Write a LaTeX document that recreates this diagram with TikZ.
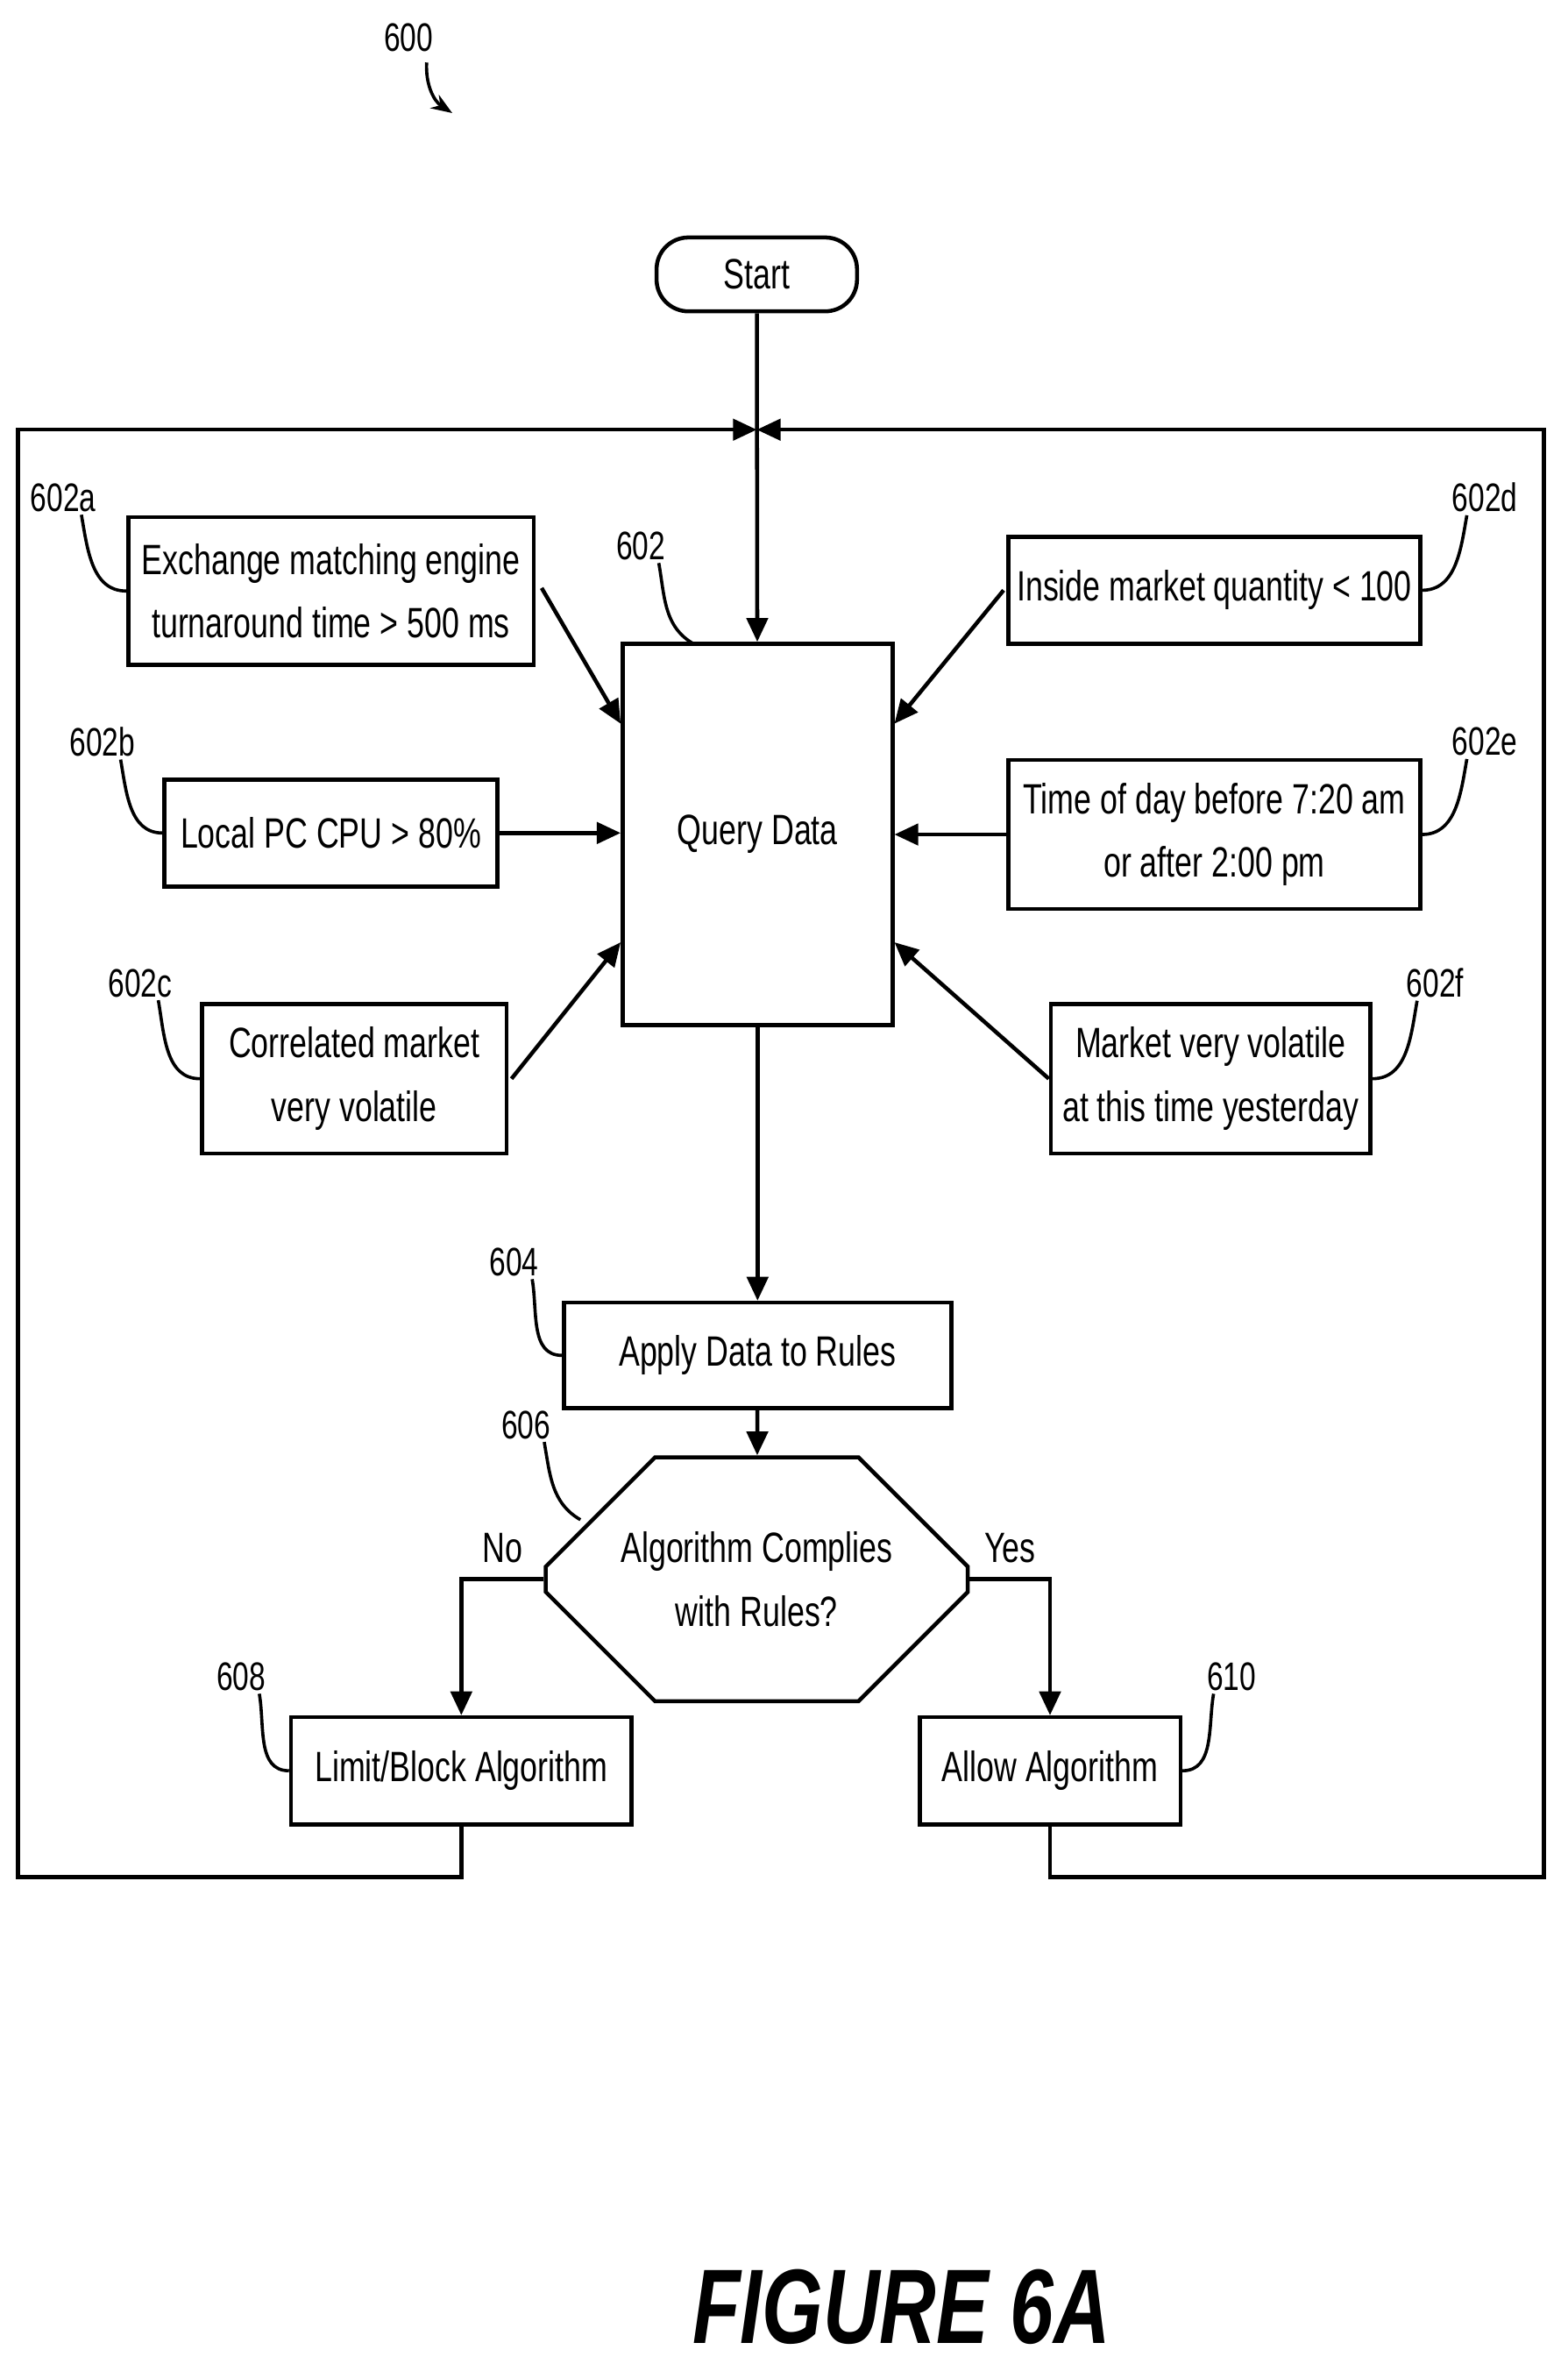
\documentclass[tikz,border=0pt]{standalone}
\usepackage{fontspec}
\setmainfont[FakeStretch=0.74]{Liberation Sans}
\usetikzlibrary{arrows.meta,shapes.misc,shapes.geometric,positioning}
\tikzset{
  box/.style={draw,line width=1.5pt,align=center,inner sep=0pt,font=\fontsize{16}{24}\selectfont},
  flow/.style={line width=1.5pt,-{Triangle[length=9pt,width=8pt]}},
  wire/.style={line width=1.5pt},
  lead/.style={line width=1.2pt},
  ref/.style={font=\fontsize{15}{18}\selectfont,inner sep=1pt},
}
\begin{document}
\begin{tikzpicture}[x=0.02cm,y=-0.02cm]
\useasboundingbox (0,0) rectangle (1040,1568);
% figure number
\node[ref] (fig) at (271,25) {600};
\draw[lead,-{Stealth[length=8pt]}] (fig.south) ++(12,5) to[bend right=30] (300,75);
% flow boxes
\node[box,rounded corners=12pt,minimum width=2.66cm,minimum height=0.98cm] (start) at (502,182) {Start};
\node[box,minimum width=3.58cm,minimum height=5.06cm] (query) at (502.5,553.5) {Query Data};
\node[box,minimum width=5.38cm,minimum height=1.96cm] (inA) at (219.5,392) {Exchange matching engine\\turnaround time > 500 ms};
\node[box,minimum width=4.42cm,minimum height=1.42cm] (inB) at (219.5,552.5) {Local PC CPU > 80\%};
\node[box,minimum width=4.04cm,minimum height=1.98cm] (inC) at (235,715.5) {Correlated market\\very volatile};
\node[box,minimum width=5.46cm,minimum height=1.42cm] (inD) at (805.5,391.5) {Inside market quantity < 100};
\node[box,minimum width=5.46cm,minimum height=1.98cm] (inE) at (805.5,553.5) {Time of day before 7:20 am\\or after 2:00 pm};
\node[box,minimum width=4.24cm,minimum height=1.98cm] (inF) at (803,715.5) {Market very volatile\\at this time yesterday};
\node[box,minimum width=5.14cm,minimum height=1.40cm] (apply) at (502.5,899) {Apply Data to Rules};
\node[box,chamfered rectangle,chamfered rectangle xsep=0.46cm,chamfered rectangle ysep=0.99cm,minimum width=5.6cm,minimum height=1.98cm,inner xsep=0pt] (check) at (502,1047.5) {Algorithm Complies\\with Rules?};
\node[box,minimum width=4.52cm,minimum height=1.42cm] (limit) at (306,1174.5) {Limit/Block Algorithm};
\node[box,minimum width=3.46cm,minimum height=1.42cm] (allow) at (696.5,1174.5) {Allow Algorithm};
% loop frame
\coordinate (join) at (502,285);
\draw[flow] (start) -- (query);
\draw[flow] (limit.south) |- (12,1245) |- (join);
\draw[flow] (allow.south) |- (1024,1245) |- (join);
% inputs
\draw[flow] (inA.east) ++(4,-2) -- (query.north west |- 0,480);
\draw[flow] (inB) -- (query.west |- inB);
\draw[flow] (inC.east) ++(2,0) -- (query.south west |- 0,625);
\draw[flow] (inD.west) ++(-2,0) -- (query.north east |- 0,480);
\draw[flow] (inE) -- (query.east |- inE);
\draw[flow] (inF.west) -- (query.south east |- 0,625);
\draw[flow] (query) -- (apply);
\draw[flow] (apply) -- (check);
\draw[flow] (check.west) -| node[pos=0.25,above=2pt,font=\fontsize{16}{20}\selectfont] {No} (limit.north);
\draw[flow] (check.east) -| node[pos=0.25,above=2pt,font=\fontsize{16}{20}\selectfont] {Yes} (allow.north);
% reference numerals
\node[ref] (nA) at (42,330) {602a};
\node[ref] (nB) at (68,492) {602b};
\node[ref] (nC) at (93,652) {602c};
\node[ref] (nD) at (985,330) {602d};
\node[ref] (nE) at (985,492) {602e};
\node[ref] (nF) at (952,652) {602f};
\node[ref] (nQ) at (425,362) {602};
\node[ref] (nP) at (341,837) {604};
\node[ref] (nK) at (349,945) {606};
\node[ref] (nL) at (160,1112) {608};
\node[ref] (nW) at (817,1112) {610};
\draw[lead] (nA.south) ++(12,0) to[out=-80,in=180] (inA.west);
\draw[lead] (nB.south) ++(12,0) to[out=-80,in=180] (inB.west);
\draw[lead] (nC.south) ++(12,0) to[out=-80,in=180] (inC.west);
\draw[lead] (nD.south) ++(-12,0) to[out=-100,in=0] (inD.east);
\draw[lead] (nE.south) ++(-12,0) to[out=-100,in=0] (inE.east);
\draw[lead] (nF.south) ++(-12,0) to[out=-100,in=0] (inF.east);
\draw[lead] (nQ.south) ++(12,0) to[out=-80,in=150] (460,427);
\draw[lead] (nP.south) ++(12,0) to[out=-80,in=180] (apply.west);
\draw[lead] (nK.south) ++(12,0) to[out=-80,in=150] (385,1008);
\draw[lead] (nL.south) ++(12,0) to[out=-80,in=180] (limit.west);
\draw[lead] (nW.south) ++(-12,0) to[out=-100,in=0] (allow.east);
\node[font=\bfseries\itshape\fontsize{40}{44}\selectfont] (title) at (598,1530) {FIGURE 6A};
\end{tikzpicture}
\end{document}
